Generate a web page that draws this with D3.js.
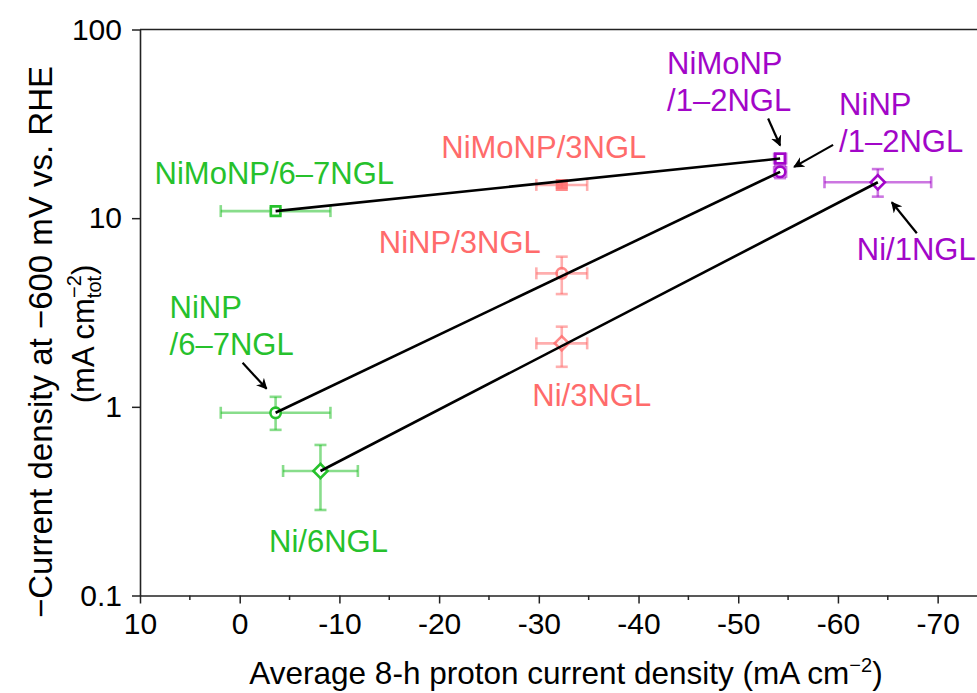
<!DOCTYPE html>
<html>
<head>
<meta charset="utf-8">
<script src="https://cdn.jsdelivr.net/npm/d3@7"></script>
<style>
  body { margin: 0; background: #fff; }
  text { font-family: "Liberation Sans", Arial, sans-serif; }
</style>
</head>
<body>
<script>
// samples
var names = ["NiMoNP/6–7NGL", "NiNP/6–7NGL", "Ni/6NGL",
             "NiMoNP/3NGL", "NiNP/3NGL", "Ni/3NGL",
             "NiMoNP/1–2NGL", "NiNP/1–2NGL", "Ni/1NGL"];
var groups = ["g67", "g67", "g67", "g3", "g3", "g3", "g12", "g12", "g12"];
var shapes = ["square", "circle", "diamond", "square", "circle", "diamond", "square", "circle", "diamond"];
var protonJ = [-3.6, -3.6, -8.1, -32.3, -32.3, -32.3, -54.2, -54.2, -64.0];
var protonErr = [5.5, 5.5, 3.75, 2.55, 2.55, 2.55, 0.6, 0.6, 5.35];
var currentJ = [10.9, 0.93, 0.457, 15.0, 5.1, 2.17, 20.7, 17.6, 15.5];
var currentLo = [10.5, 0.755, 0.284, 14.5, 3.96, 1.63, 19.4, 16.3, 13.0];
var currentHi = [11.3, 1.13, 0.628, 15.5, 6.25, 2.66, 22.0, 18.9, 18.2];
// which samples are joined by black lines
var links = [[0, 6], [1, 7], [2, 8]];

var xTicks = [10, 0, -10, -20, -30, -40, -50, -60, -70];
var xMinor = [5, -5, -15, -25, -35, -45, -55, -65, -75];
var yTicks = [0.1, 1, 10, 100];
var yTickLabels = ["0.1", "1", "10", "100"];

var colors = { g67: "#26c12c", g3: "#ff6b6b", g12: "#a206c8" };
var markOpacity = { g67: 1, g3: 0.8, g12: 1 };

// label text lines and offsets (px) from each point, plus arrows
var labelLines = [["NiMoNP/6–7NGL"], ["NiNP", "/6–7NGL"], ["Ni/6NGL"],
                  ["NiMoNP/3NGL"], ["NiNP/3NGL"], ["Ni/3NGL"],
                  ["NiMoNP", "/1–2NGL"], ["NiNP", "/1–2NGL"], ["Ni/1NGL"]];
var labelAnchor = ["start", "start", "middle", "middle", "end", "middle", "start", "start", "start"];
var labelDx = [-121, -106, 8, -18, -21, 30, -113, 59, -21];
var labelDy = [-27, -95, 81, -27, -20, 63, -85, -57, 78];
var arrows = [null, [-33, -50, -9, -24], null, null, null, null,
              [-12, -40, 0, -13], [53, -27, 14, -5], [39, 51, 14, 20]];

var W = 977, H = 693;
var svg = d3.select("body").append("svg").attr("width", W).attr("height", H);

var x = d3.scaleLinear().domain([10, -75]).range([140, 987.5]);
var y = d3.scaleLog().domain([0.1, 100]).range([595.5, 29.5]);

var defs = svg.append("defs");
defs.append("marker").attr("id", "arr")
    .attr("viewBox", "0 0 10 10").attr("refX", 9).attr("refY", 5)
    .attr("markerWidth", 5).attr("markerHeight", 5).attr("orient", "auto")
    .attr("markerUnits", "strokeWidth")
    .append("path").attr("d", "M0,0 L10,5 L0,10 L3,5 Z").attr("fill", "#000");

// frame top line
svg.append("line").attr("x1", x(10)).attr("x2", W + 10)
    .attr("y1", y(100)).attr("y2", y(100))
    .attr("stroke", "#222").attr("stroke-width", 1.6);

var xAxis = svg.append("g").attr("transform", "translate(0," + y(0.1) + ")")
    .call(d3.axisBottom(x).tickValues(xTicks).tickFormat(function(d) { return String(d); })
          .tickSize(8).tickPadding(9.5).tickSizeOuter(0));
xAxis.append("g").selectAll("line").data(xMinor).enter().append("line")
    .attr("x1", function(d) { return x(d); }).attr("x2", function(d) { return x(d); })
    .attr("y1", 0).attr("y2", 4.5).attr("stroke", "#222").attr("stroke-width", 1.5);

var yAxis = svg.append("g").attr("transform", "translate(" + x(10) + ",0)")
    .call(d3.axisLeft(y).tickValues(yTicks)
          .tickFormat(function(d, i) { return yTickLabels[i]; })
          .tickSize(8).tickPadding(10).tickSizeOuter(0));

svg.selectAll(".domain").attr("stroke", "#222").attr("stroke-width", 1.6);
svg.selectAll(".tick line").attr("stroke", "#222").attr("stroke-width", 1.5);
svg.selectAll(".tick text").attr("font-size", 30).attr("fill", "#000")
    .style("font-family", "'Liberation Sans', Arial, sans-serif");

// axis titles
svg.append("text").attr("x", 566).attr("y", 684).attr("text-anchor", "middle")
    .attr("font-size", 31.5)
    .html('Average 8-h proton current density (mA cm<tspan dy="-12" font-size="20">−2</tspan><tspan dy="12">)</tspan>');

svg.append("g").attr("transform", "translate(52,342) rotate(-90)")
    .append("text").attr("text-anchor", "middle").attr("font-size", 33)
    .text("−Current density at −600 mV vs. RHE");
svg.append("g").attr("transform", "translate(94,334) rotate(-90)")
    .append("text").attr("text-anchor", "middle").attr("font-size", 31)
    .html('(mA cm<tspan dy="7" font-size="20">tot</tspan><tspan dy="-20" dx="-22" font-size="20">−2</tspan><tspan dy="13">)</tspan>');

var idx = d3.range(names.length);

// error bars
var eb = svg.append("g");
idx.forEach(function(i) {
  var c = colors[groups[i]];
  var g = eb.append("g").attr("stroke", c).attr("stroke-opacity", 0.55).attr("stroke-width", 2.6);
  var cx = x(protonJ[i]), cy = y(currentJ[i]);
  var x1 = x(protonJ[i] + protonErr[i]), x2 = x(protonJ[i] - protonErr[i]);
  var y1 = y(currentHi[i]), y2 = y(currentLo[i]);
  g.append("line").attr("x1", x1).attr("x2", x2).attr("y1", cy).attr("y2", cy);
  g.append("line").attr("x1", x1).attr("x2", x1).attr("y1", cy - 6).attr("y2", cy + 6);
  g.append("line").attr("x1", x2).attr("x2", x2).attr("y1", cy - 6).attr("y2", cy + 6);
  g.append("line").attr("x1", cx).attr("x2", cx).attr("y1", y1).attr("y2", y2);
  g.append("line").attr("x1", cx - 6).attr("x2", cx + 6).attr("y1", y1).attr("y2", y1);
  g.append("line").attr("x1", cx - 6).attr("x2", cx + 6).attr("y1", y2).attr("y2", y2);
});

// markers
var symbolOf = { square: d3.symbolSquare, circle: d3.symbolCircle, diamond: d3.symbolSquare };
var sizeOf = { square: 90, circle: 85, diamond: 100 };
svg.append("g").selectAll("path").data(idx).enter().append("path")
    .attr("d", function(i) { return d3.symbol().type(symbolOf[shapes[i]]).size(sizeOf[shapes[i]])(); })
    .attr("transform", function(i) {
      return "translate(" + x(protonJ[i]) + "," + y(currentJ[i]) + ")" + (shapes[i] === "diamond" ? " rotate(45)" : "");
    })
    .attr("fill", function(i) { return (groups[i] === "g3" && shapes[i] === "square") ? colors.g3 : "#fff"; })
    .attr("opacity", function(i) { return markOpacity[groups[i]]; })
    .attr("stroke", function(i) { return colors[groups[i]]; })
    .attr("stroke-width", 2.6);

// connecting lines
svg.append("g").selectAll("line").data(links).enter().append("line")
    .attr("x1", function(d) { return x(protonJ[d[0]]); })
    .attr("y1", function(d) { return y(currentJ[d[0]]); })
    .attr("x2", function(d) { return x(protonJ[d[1]]); })
    .attr("y2", function(d) { return y(currentJ[d[1]]); })
    .attr("stroke", "#000").attr("stroke-width", 2.6);

// labels
idx.forEach(function(i) {
  var px = x(protonJ[i]), py = y(currentJ[i]);
  var t = svg.append("text").attr("font-size", 31).attr("fill", colors[groups[i]])
      .attr("text-anchor", labelAnchor[i]);
  labelLines[i].forEach(function(s, k) {
    t.append("tspan").attr("x", px + labelDx[i]).attr("y", py + labelDy[i] + k * 37).text(s);
  });
  if (arrows[i]) {
    var a = arrows[i];
    svg.append("line").attr("x1", px + a[0]).attr("y1", py + a[1])
        .attr("x2", px + a[2]).attr("y2", py + a[3])
        .attr("stroke", "#000").attr("stroke-width", 2.2)
        .attr("marker-end", "url(#arr)");
  }
});
</script>
</body>
</html>
